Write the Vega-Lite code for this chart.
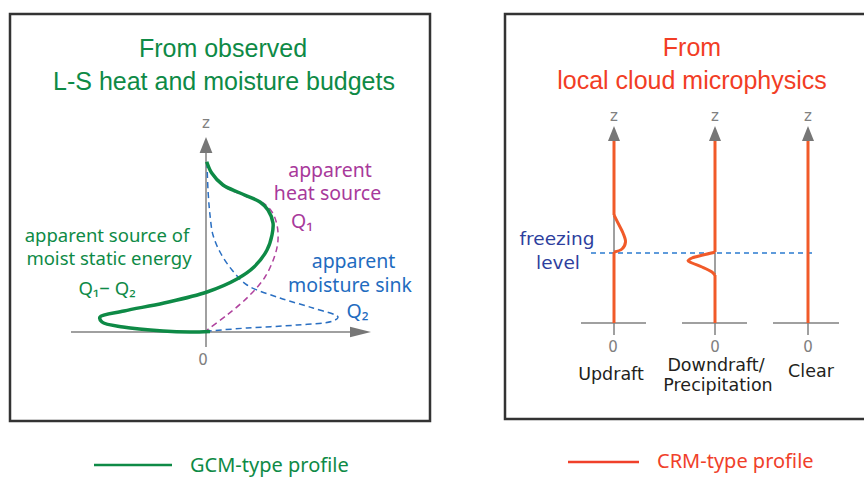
{
  "$schema": "https://vega.github.io/schema/vega-lite/v6.json",
  "width": 864,
  "height": 477,
  "autosize": "none",
  "padding": 0,
  "background": "white",
  "config": {"view": {"stroke": null}},
  "datasets": {
    "boxes": [{"x": 10, "x2": 430, "y": 14, "y2": 421}, {"x": 505, "x2": 872, "y": 14, "y2": 419}],
    "axes": [
      {"x": 206, "y": 153, "x2": 206, "y2": 347},
      {"x": 71, "y": 332, "x2": 351, "y2": 332},
      {"x": 614, "y": 141, "x2": 614, "y2": 335},
      {"x": 715, "y": 141, "x2": 715, "y2": 335},
      {"x": 808, "y": 141, "x2": 808, "y2": 335},
      {"x": 581, "y": 323, "x2": 646, "y2": 323},
      {"x": 682, "y": 323, "x2": 747, "y2": 323},
      {"x": 773, "y": 323, "x2": 839, "y2": 323}
    ],
    "arrowLeft": [{"x": 206, "y": 145}],
    "arrowRight": [{"x": 614, "y": 133.5}, {"x": 715, "y": 133.5}, {"x": 808, "y": 133.5}],
    "arrowH": [{"x": 360.5, "y": 332}],
    "green": [
      {"i": 0, "x": 206.7, "y": 161.7}, {"i": 1, "x": 211.7, "y": 173}, {"i": 2, "x": 223, "y": 185},
      {"i": 3, "x": 240, "y": 193}, {"i": 4, "x": 260, "y": 202}, {"i": 5, "x": 268, "y": 210},
      {"i": 6, "x": 273, "y": 223}, {"i": 7, "x": 272, "y": 235}, {"i": 8, "x": 267, "y": 250},
      {"i": 9, "x": 254, "y": 267}, {"i": 10, "x": 237, "y": 279}, {"i": 11, "x": 207, "y": 292},
      {"i": 12, "x": 164, "y": 303}, {"i": 13, "x": 124, "y": 311}, {"i": 14, "x": 100, "y": 317},
      {"i": 15, "x": 102, "y": 322}, {"i": 16, "x": 123, "y": 327}, {"i": 17, "x": 163, "y": 331},
      {"i": 18, "x": 190, "y": 332}, {"i": 19, "x": 210, "y": 331.5}
    ],
    "q1": [
      {"i": 0, "x": 207, "y": 163}, {"i": 1, "x": 213, "y": 175}, {"i": 2, "x": 225, "y": 187},
      {"i": 3, "x": 245, "y": 196}, {"i": 4, "x": 263, "y": 203}, {"i": 5, "x": 272, "y": 212},
      {"i": 6, "x": 277, "y": 225}, {"i": 7, "x": 278, "y": 240}, {"i": 8, "x": 275, "y": 255},
      {"i": 9, "x": 265, "y": 277}, {"i": 10, "x": 248, "y": 297}, {"i": 11, "x": 227, "y": 315},
      {"i": 12, "x": 207, "y": 330}
    ],
    "q2": [
      {"i": 0, "x": 207, "y": 162}, {"i": 1, "x": 208, "y": 190}, {"i": 2, "x": 210, "y": 215},
      {"i": 3, "x": 213, "y": 235}, {"i": 4, "x": 220, "y": 252}, {"i": 5, "x": 232, "y": 270},
      {"i": 6, "x": 247, "y": 285}, {"i": 7, "x": 280, "y": 298}, {"i": 8, "x": 313, "y": 308},
      {"i": 9, "x": 338, "y": 317}, {"i": 10, "x": 333, "y": 321}, {"i": 11, "x": 297, "y": 325},
      {"i": 12, "x": 247, "y": 328}, {"i": 13, "x": 208, "y": 331}
    ],
    "orangeStraight": [
      {"x": 614, "y": 141, "x2": 614, "y2": 215},
      {"x": 614, "y": 252, "x2": 614, "y2": 323},
      {"x": 715, "y": 141, "x2": 715, "y2": 252},
      {"x": 715, "y": 275, "x2": 715, "y2": 323},
      {"x": 808, "y": 141, "x2": 808, "y2": 323}
    ],
    "updraft": [
      {"i": 0, "x": 614, "y": 215}, {"i": 1, "x": 618, "y": 223}, {"i": 2, "x": 623, "y": 233},
      {"i": 3, "x": 625.5, "y": 242}, {"i": 4, "x": 622, "y": 249}, {"i": 5, "x": 614, "y": 252}
    ],
    "downdraft": [
      {"i": 0, "x": 715, "y": 252.3}, {"i": 1, "x": 703, "y": 255}, {"i": 2, "x": 692, "y": 258},
      {"i": 3, "x": 688, "y": 260.7}, {"i": 4, "x": 692, "y": 263}, {"i": 5, "x": 702, "y": 267},
      {"i": 6, "x": 712, "y": 272}, {"i": 7, "x": 715, "y": 275}
    ],
    "freezing": [{"x": 591, "y": 253, "x2": 812, "y2": 253}],
    "legendGreen": [{"x": 94, "y": 465, "x2": 172, "y2": 465}],
    "legendRed": [{"x": 568, "y": 462, "x2": 639, "y2": 462}],
    "titleGreen": [{"x": 223, "y": 57, "t": "From observed"}, {"x": 224, "y": 90, "t": "L-S heat and moisture budgets"}],
    "titleOrange": [{"x": 692, "y": 56, "t": "From"}, {"x": 692, "y": 89, "t": "local cloud microphysics"}],
    "labGreen": [{"x": 107, "y": 242, "t": "apparent source of"}, {"x": 109, "y": 265, "t": "moist static energy"}, {"x": 107, "y": 295, "t": "Q₁− Q₂"}],
    "labMagenta": [{"x": 330, "y": 177, "t": "apparent"}, {"x": 327.5, "y": 200, "t": "heat source"}, {"x": 302, "y": 228, "t": "Q₁"}],
    "labBlue": [{"x": 353.5, "y": 268, "t": "apparent"}, {"x": 350, "y": 292, "t": "moisture sink"}, {"x": 357.5, "y": 318, "t": "Q₂"}],
    "axisLabels": [
      {"x": 206, "y": 128, "t": "z"}, {"x": 203, "y": 365, "t": "0"},
      {"x": 614, "y": 121, "t": "z"}, {"x": 715, "y": 121, "t": "z"}, {"x": 808, "y": 121, "t": "z"},
      {"x": 613, "y": 352, "t": "0"}, {"x": 715, "y": 352, "t": "0"}, {"x": 808, "y": 352, "t": "0"}
    ],
    "labDark": [{"x": 611, "y": 380, "t": "Updraft"}, {"x": 716, "y": 371, "t": "Downdraft/"}, {"x": 718, "y": 391, "t": "Precipitation"}, {"x": 811, "y": 377, "t": "Clear"}],
    "labFreeze": [{"x": 557, "y": 245, "t": "freezing"}, {"x": 558, "y": 269, "t": "level"}],
    "legTextGreen": [{"x": 190, "y": 472, "t": "GCM-type profile"}],
    "legTextRed": [{"x": 657, "y": 468, "t": "CRM-type profile"}]
  },
  "encoding": {
    "x": {"field": "x", "type": "quantitative", "scale": {"domain": [0, 864], "nice": false, "zero": false}, "axis": null},
    "y": {"field": "y", "type": "quantitative", "scale": {"domain": [477, 0], "nice": false, "zero": false}, "axis": null}
  },
  "layer": [
    {"data": {"name": "boxes"}, "mark": {"type": "rect", "filled": false, "stroke": "#333333", "strokeWidth": 2.5, "clip": true},
     "encoding": {"x2": {"field": "x2"}, "y2": {"field": "y2"}}},
    {"data": {"name": "axes"}, "mark": {"type": "rule", "stroke": "#808080", "strokeWidth": 1.5},
     "encoding": {"x2": {"field": "x2"}, "y2": {"field": "y2"}}},
    {"data": {"name": "arrowLeft"}, "mark": {"type": "point", "shape": "M-0.8,1L0,-1L0.8,1Z", "size": 256, "filled": true, "fill": "#777777", "strokeWidth": 0, "opacity": 1}},
    {"data": {"name": "arrowRight"}, "mark": {"type": "point", "shape": "M-0.8,1L0,-1L0.8,1Z", "size": 225, "filled": true, "fill": "#777777", "strokeWidth": 0, "opacity": 1}},
    {"data": {"name": "arrowH"}, "mark": {"type": "point", "shape": "M-1,-0.5L1,0L-1,0.5Z", "size": 441, "filled": true, "fill": "#777777", "strokeWidth": 0, "opacity": 1}},
    {"data": {"name": "q2"}, "mark": {"type": "line", "interpolate": "catmull-rom", "stroke": "#2a6fc2", "strokeWidth": 1.5, "strokeDash": [6, 4]},
     "encoding": {"order": {"field": "i", "type": "quantitative"}}},
    {"data": {"name": "q1"}, "mark": {"type": "line", "interpolate": "catmull-rom", "stroke": "#b0439e", "strokeWidth": 1.5, "strokeDash": [6, 4]},
     "encoding": {"order": {"field": "i", "type": "quantitative"}}},
    {"data": {"name": "green"}, "mark": {"type": "line", "interpolate": "catmull-rom", "stroke": "#0e8a46", "strokeWidth": 3.5},
     "encoding": {"order": {"field": "i", "type": "quantitative"}}},
    {"data": {"name": "freezing"}, "mark": {"type": "rule", "stroke": "#2a7bd0", "strokeWidth": 1.5, "strokeDash": [5, 4]},
     "encoding": {"x2": {"field": "x2"}, "y2": {"field": "y2"}}},
    {"data": {"name": "orangeStraight"}, "mark": {"type": "rule", "stroke": "#f15a29", "strokeWidth": 3},
     "encoding": {"x2": {"field": "x2"}, "y2": {"field": "y2"}}},
    {"data": {"name": "updraft"}, "mark": {"type": "line", "interpolate": "catmull-rom", "stroke": "#f15a29", "strokeWidth": 3},
     "encoding": {"order": {"field": "i", "type": "quantitative"}}},
    {"data": {"name": "downdraft"}, "mark": {"type": "line", "interpolate": "catmull-rom", "stroke": "#f15a29", "strokeWidth": 3},
     "encoding": {"order": {"field": "i", "type": "quantitative"}}},
    {"data": {"name": "legendGreen"}, "mark": {"type": "rule", "stroke": "#0e8a46", "strokeWidth": 2.5},
     "encoding": {"x2": {"field": "x2"}, "y2": {"field": "y2"}}},
    {"data": {"name": "legendRed"}, "mark": {"type": "rule", "stroke": "#f0402a", "strokeWidth": 2.5},
     "encoding": {"x2": {"field": "x2"}, "y2": {"field": "y2"}}},
    {"data": {"name": "titleGreen"}, "mark": {"type": "text", "font": "Liberation Sans", "fontSize": 25, "color": "#0e8a46", "align": "center", "baseline": "alphabetic"},
     "encoding": {"text": {"field": "t"}}},
    {"data": {"name": "titleOrange"}, "mark": {"type": "text", "font": "Liberation Sans", "fontSize": 25, "color": "#f23d25", "align": "center", "baseline": "alphabetic"},
     "encoding": {"text": {"field": "t"}}},
    {"data": {"name": "labGreen"}, "mark": {"type": "text", "font": "Noto Sans", "fontSize": 18.5, "color": "#0e8a46", "align": "center", "baseline": "alphabetic"},
     "encoding": {"text": {"field": "t"}}},
    {"data": {"name": "labMagenta"}, "mark": {"type": "text", "font": "Noto Sans", "fontSize": 19.5, "color": "#a8399b", "align": "center", "baseline": "alphabetic"},
     "encoding": {"text": {"field": "t"}}},
    {"data": {"name": "labBlue"}, "mark": {"type": "text", "font": "Noto Sans", "fontSize": 19.5, "color": "#1f6cc0", "align": "center", "baseline": "alphabetic"},
     "encoding": {"text": {"field": "t"}}},
    {"data": {"name": "axisLabels"}, "mark": {"type": "text", "font": "DejaVu Sans", "fontSize": 15, "color": "#808080", "align": "center", "baseline": "alphabetic"},
     "encoding": {"text": {"field": "t"}}},
    {"data": {"name": "labDark"}, "mark": {"type": "text", "font": "DejaVu Sans", "fontSize": 17.5, "color": "#231f20", "align": "center", "baseline": "alphabetic"},
     "encoding": {"text": {"field": "t"}}},
    {"data": {"name": "labFreeze"}, "mark": {"type": "text", "font": "DejaVu Sans", "fontSize": 18.5, "color": "#2e3f9e", "align": "center", "baseline": "alphabetic"},
     "encoding": {"text": {"field": "t"}}},
    {"data": {"name": "legTextGreen"}, "mark": {"type": "text", "font": "Noto Sans", "fontSize": 20, "color": "#0e8a46", "align": "left", "baseline": "alphabetic"},
     "encoding": {"text": {"field": "t"}}},
    {"data": {"name": "legTextRed"}, "mark": {"type": "text", "font": "Noto Sans", "fontSize": 20, "color": "#f0402a", "align": "left", "baseline": "alphabetic"},
     "encoding": {"text": {"field": "t"}}}
  ]
}
